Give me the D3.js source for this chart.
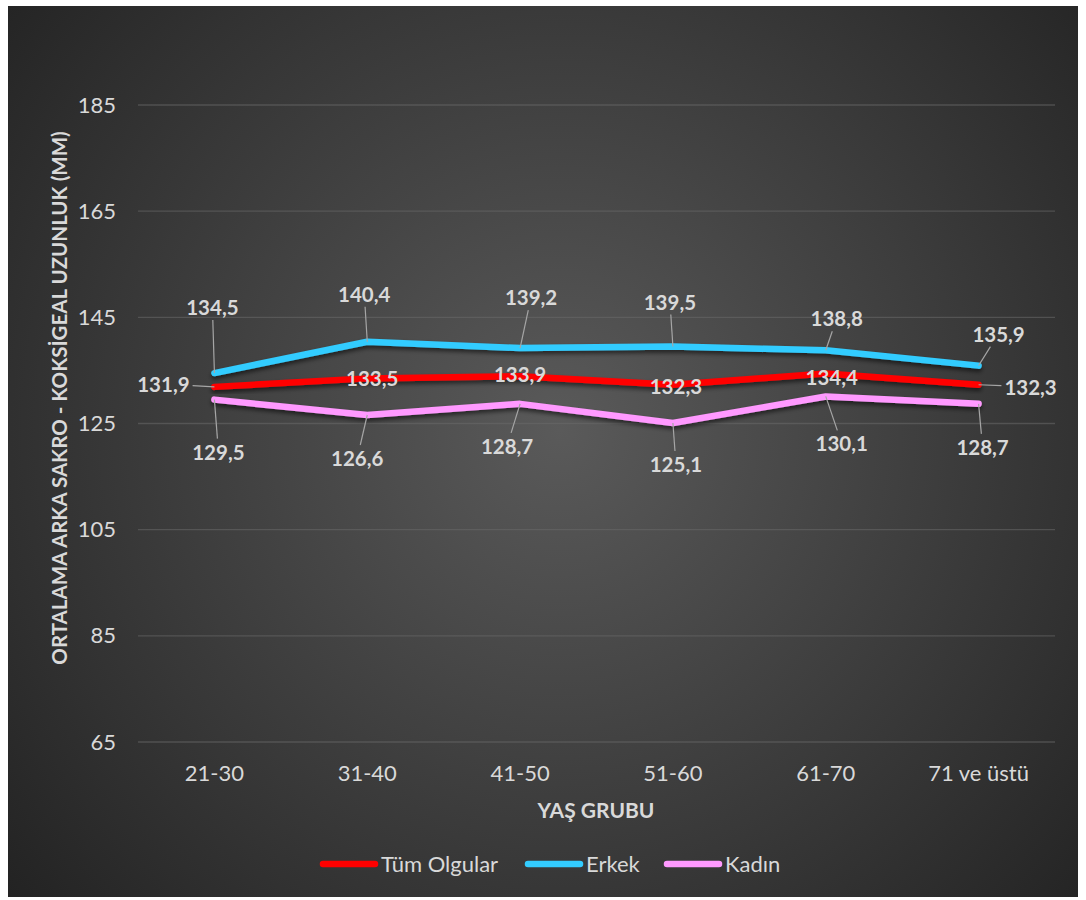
<!DOCTYPE html>
<html>
<head>
<meta charset="utf-8">
<script src="https://cdn.jsdelivr.net/npm/d3@7"></script>
<style>
  html, body { margin: 0; padding: 0; background: #ffffff; }
  svg { display: block; }
  text { font-family: Lato, "Noto Sans", sans-serif; }
</style>
</head>
<body>
<svg id="chart" width="1086" height="900"></svg>
<script>
// Age groups and mean posterior sacro-coccygeal length (mm)
const categories = ["21-30", "31-40", "41-50", "51-60", "61-70", "71 ve üstü"];
const seriesNames = ["Tüm Olgular", "Erkek", "Kadın"];
const tumOlgular = [131.9, 133.5, 133.9, 132.3, 134.4, 132.3];
const erkek = [134.5, 140.4, 139.2, 139.5, 138.8, 135.9];
const kadin = [129.5, 126.6, 128.7, 125.1, 130.1, 128.7];
const yTicks = [65, 85, 105, 125, 145, 165, 185];
const yTitle = "ORTALAMA ARKA SAKRO - KOKSİGEAL UZUNLUK (MM)";
const xTitle = "YAŞ GRUBU";

// Label placement relative to each point (px)
const labelOffsets = [
  [[-51, -3], [5, 0], [0, -2], [3, 1], [6, 3], [52, 2]],
  [[-2, -66], [-3, -48], [11, -51], [-3, -45], [11, -32], [20, -32]],
  [[4, 52], [-10, 43], [-13, 42], [3, 41], [16, 47], [4, 43]]
];
const colors = ["#ff0000", "#33ccff", "#ff99ff"];

const series = [tumOlgular, erkek, kadin].map((vals, i) => ({
  name: seriesNames[i], values: vals, color: colors[i], offsets: labelOffsets[i]
}));

const svg = d3.select("#chart");
const defs = svg.append("defs");

// Dark chart background, lighter toward the middle
const grad = defs.append("radialGradient").attr("id", "bg")
  .attr("gradientUnits", "userSpaceOnUse")
  .attr("cx", 560).attr("cy", 430).attr("r", 720);
grad.append("stop").attr("offset", "0%").attr("stop-color", "#5a5a5a");
grad.append("stop").attr("offset", "100%").attr("stop-color", "#232323");

const shadow = defs.append("filter").attr("id", "shadow")
  .attr("x", "-10%").attr("y", "-50%").attr("width", "120%").attr("height", "200%");
shadow.append("feDropShadow").attr("dx", 0).attr("dy", 3).attr("stdDeviation", 2)
  .attr("flood-color", "#000").attr("flood-opacity", 0.55);

svg.append("rect").attr("x", 8).attr("y", 6).attr("width", 1070).attr("height", 891)
  .attr("fill", "url(#bg)");

const plot = { left: 138, right: 1055, top: 105, bottom: 742 };

const x = d3.scaleBand().domain(categories).range([plot.left, plot.right]);
const y = d3.scaleLinear().domain([65, 185]).range([plot.bottom, plot.top]);
const cx = c => x(c) + x.bandwidth() / 2;

// Horizontal gridlines
svg.append("g").selectAll("line").data(yTicks).join("line")
  .attr("x1", plot.left).attr("x2", plot.right)
  .attr("y1", d => y(d)).attr("y2", d => y(d))
  .attr("stroke", "#6a6a6a").attr("stroke-opacity", 0.55).attr("stroke-width", 1.3);

// Y axis tick labels
const yAxis = d3.axisLeft(y).tickValues(yTicks).tickSize(0).tickPadding(0);
const gy = svg.append("g").attr("transform", `translate(116,0)`).call(yAxis);
gy.select(".domain").remove();
gy.selectAll("text").attr("fill", "#d9d9d9").style("font-size", "22px")
  .style("font-family", "Lato, 'Noto Sans', sans-serif");

// X axis tick labels
const xAxis = d3.axisBottom(x).tickSize(0).tickPadding(0);
const gx = svg.append("g").attr("transform", `translate(0,765)`).call(xAxis);
gx.select(".domain").remove();
gx.selectAll("text").attr("fill", "#d9d9d9").style("font-size", "22px")
  .attr("dy", "0.72em")
  .style("font-family", "Lato, 'Noto Sans', sans-serif");

// Axis titles
svg.append("text").attr("transform", "translate(67,398) rotate(-90)")
  .attr("text-anchor", "middle").attr("fill", "#d9d9d9")
  .style("font-size", "20.5px").style("font-weight", "bold").text(yTitle);
svg.append("text").attr("x", 596).attr("y", 818)
  .attr("text-anchor", "middle").attr("fill", "#d9d9d9")
  .style("font-size", "21px").style("font-weight", "bold").text(xTitle);

// Series lines
const line = d3.line().x((d, i) => cx(categories[i])).y(d => y(d));
svg.append("g").selectAll("path").data(series).join("path")
  .attr("d", s => line(s.values))
  .attr("fill", "none").attr("stroke", s => s.color).attr("stroke-width", 6.5)
  .attr("stroke-linecap", "round").attr("stroke-linejoin", "round")
  .attr("filter", "url(#shadow)");

// Data labels with leader lines
const leaderLayer = svg.append("g");
const labelLayer = svg.append("g");
series.forEach(s => {
  s.values.forEach((v, i) => {
    const px = cx(categories[i]), py = y(v);
    const lx = px + s.offsets[i][0], ly = py + s.offsets[i][1];
    const t = labelLayer.append("text").attr("x", lx).attr("y", ly)
      .attr("text-anchor", "middle").attr("dominant-baseline", "central")
      .attr("fill", "#d9d9d9").style("font-size", "20.5px").style("font-weight", "bold")
      .text(d3.format(".1f")(v).replace(".", ","));
    const bb = t.node().getBBox();
    const pad = 3;
    const hw = bb.width / 2 + pad, hh = bb.height / 2 + pad - 2;
    const ddx = px - lx, ddy = py - ly;
    if (Math.abs(ddx) <= hw && Math.abs(ddy) <= hh) return;
    // point where the ray from the label centre to the point leaves the box
    const sc = Math.min(ddx !== 0 ? hw / Math.abs(ddx) : Infinity,
                        ddy !== 0 ? hh / Math.abs(ddy) : Infinity);
    leaderLayer.append("line")
      .attr("x1", lx + ddx * sc).attr("y1", ly + ddy * sc)
      .attr("x2", px).attr("y2", py)
      .attr("stroke", "#a6a6a6").attr("stroke-width", 1.2);
  });
});

// Legend
const legendItems = [
  { x: 320, w: 58 }, { x: 525, w: 58 }, { x: 664, w: 58 }
];
const lg = svg.append("g");
series.forEach((s, i) => {
  const it = legendItems[i];
  lg.append("line").attr("x1", it.x + 3).attr("x2", it.x + it.w - 3)
    .attr("y1", 864).attr("y2", 864)
    .attr("stroke", s.color).attr("stroke-width", 6.5).attr("stroke-linecap", "round");
  lg.append("text").attr("x", it.x + it.w + 3).attr("y", 871.5)
    .attr("fill", "#d9d9d9").style("font-size", "22px").text(s.name);
});
</script>
</body>
</html>
